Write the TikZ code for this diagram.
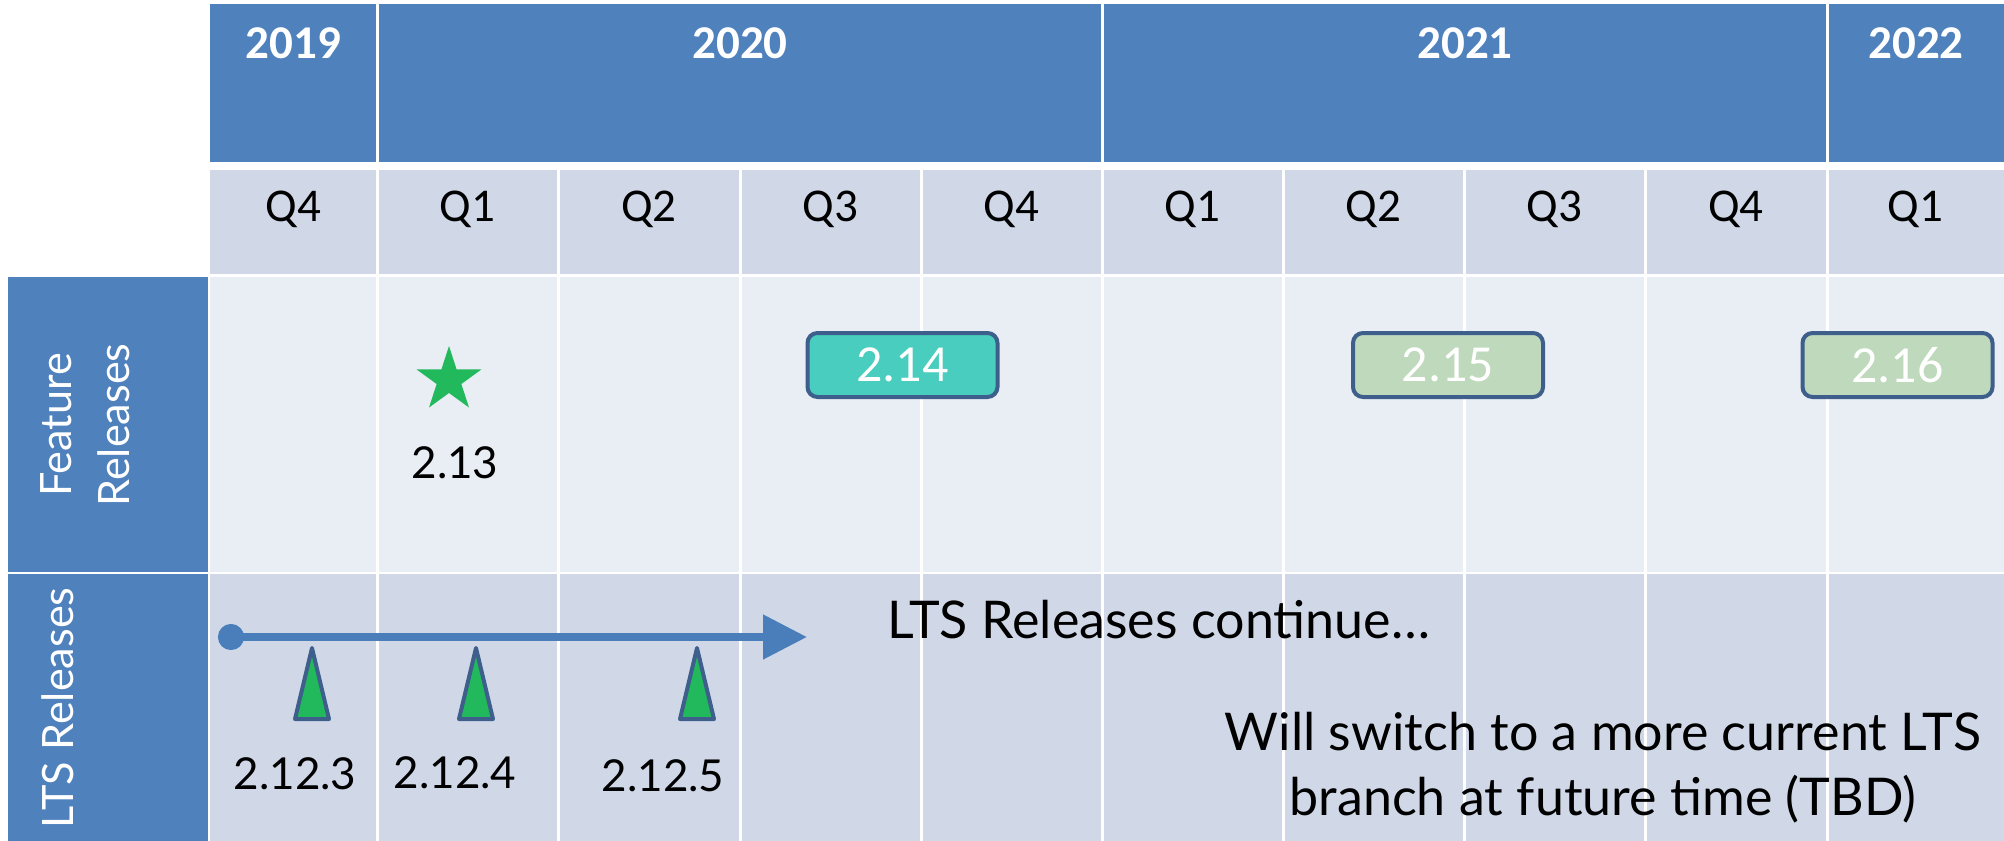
\documentclass[tikz,border=0pt]{standalone}
\usepackage{fontspec}
\setmainfont{Carlito}
\newfontfamily\gill{Lato}
\newfontfamily\lbl{Lato}
\usetikzlibrary{arrows.meta,shapes.geometric}
\definecolor{hdr}{HTML}{4F81BD}
\definecolor{qrow}{HTML}{D0D8E8}
\definecolor{frow}{HTML}{E9EDF4}
\definecolor{bord}{HTML}{3E5F8C}
\definecolor{tealc}{HTML}{48CDBF}
\definecolor{sage}{HTML}{BFD9BC}
\definecolor{grn}{HTML}{22B85C}
\definecolor{arrc}{HTML}{4A7EBB}
\begin{document}
\begin{tikzpicture}[x=0.5pt,y=-0.5pt,
  year/.style={anchor=base, text=white, font=\fontsize{23.5}{28}\bfseries\selectfont, inner sep=0},
  qtr/.style={anchor=base, font=\fontsize{23.5}{28}\selectfont, inner sep=0},
  fbox/.style={draw=bord, line width=2pt, rounded corners=5pt, minimum width=95pt, minimum height=32pt, text=white, font=\fontsize{26}{30}\selectfont, inner sep=0},
  ver/.style={anchor=base, font=\gill\fontsize{22}{26}\selectfont, inner sep=0},
  note/.style={anchor=base, font=\gill\fontsize{26}{32.5}\selectfont, inner sep=0},
  side/.style={text=white, rotate=90, font=\lbl\fontsize{21.6}{29}\selectfont, align=center, inner sep=0},
  tri/.style={fill=grn, draw=bord, line width=2pt, line join=round},
  gridline/.style={white, line width=1.5pt},
]
\useasboundingbox (0,0) rectangle (2004,841);
\fill[white] (0,0) rectangle (2004,841);
% bands
\fill[hdr] (210,4) rectangle (2004,162);
\fill[qrow] (210,170) rectangle (2004,274);
\fill[frow] (210,277) rectangle (2004,572);
\fill[qrow] (210,574) rectangle (2004,841);
\fill[hdr] (8,277) rectangle (208,572);
\fill[hdr] (8,574) rectangle (208,841);
% grid lines
\foreach \x in {377,1102,1827} \draw[gridline] (\x,4) -- (\x,162);
\foreach \x in {377,558,740,921,1102,1283,1464,1645,1827} \draw[gridline] (\x,170) -- (\x,841);
% years
\node[year] (y2019) at (293.5,58) {2019};
\node[year] (y2020) at (740,58) {2020};
\node[year] (y2021) at (1465,58) {2021};
\node[year] (y2022) at (1916,58) {2022};
% quarters
\node[qtr] (q1) at (293.5,221) {Q4};
\node[qtr] (q2) at (467.5,221) {Q1};
\node[qtr] (q3) at (649,221) {Q2};
\node[qtr] (q4) at (830.5,221) {Q3};
\node[qtr] (q5) at (1011.5,221) {Q4};
\node[qtr] (q6) at (1192.5,221) {Q1};
\node[qtr] (q7) at (1373.5,221) {Q2};
\node[qtr] (q8) at (1554.5,221) {Q3};
\node[qtr] (q9) at (1736,221) {Q4};
\node[qtr] (q10) at (1915.5,221) {Q1};
% side labels
\node[side] (feat) at (85,425) {Feature\\Releases};
\node[side] (lts) at (58,708) {LTS Releases};
% feature releases
\node[star, star points=5, star point ratio=2.618, fill=grn, minimum size=34pt, inner sep=0] (star) at (449,380) {};
\node[ver] (v213) at (455,478) {2.13};
\node[fbox, fill=tealc] (v214) at (902.5,365) {2.14};
\node[fbox, fill=sage] (v215) at (1448,365) {2.15};
\node[fbox, fill=sage] (v216) at (1897.5,365) {2.16};
% LTS arrow
\coordinate (ls) at (218,637);
\coordinate (le) at (807,637);
\draw[arrc, line width=4pt, {Circle[length=13pt,width=13pt]}-{Triangle[length=22pt,width=21.5pt]}] (ls) -- (le);
\node[note, anchor=base west] (cont) at (887,638) {LTS Releases continue…};
% LTS triangles
\draw[tri] (295,719) -- (312,648) -- (329,719) -- cycle;
\draw[tri] (459,719) -- (476,648) -- (493,719) -- cycle;
\draw[tri] (680,719) -- (697,648) -- (714,719) -- cycle;
\node[ver] (l3) at (295,789) {2.12.3};
\node[ver] (l4) at (455,788) {2.12.4};
\node[ver] (l5) at (663,791) {2.12.5};
\node[note, align=center] (sw) at (1603,815) {Will switch to a more current LTS\\branch at future time (TBD)};
\end{tikzpicture}
\end{document}
